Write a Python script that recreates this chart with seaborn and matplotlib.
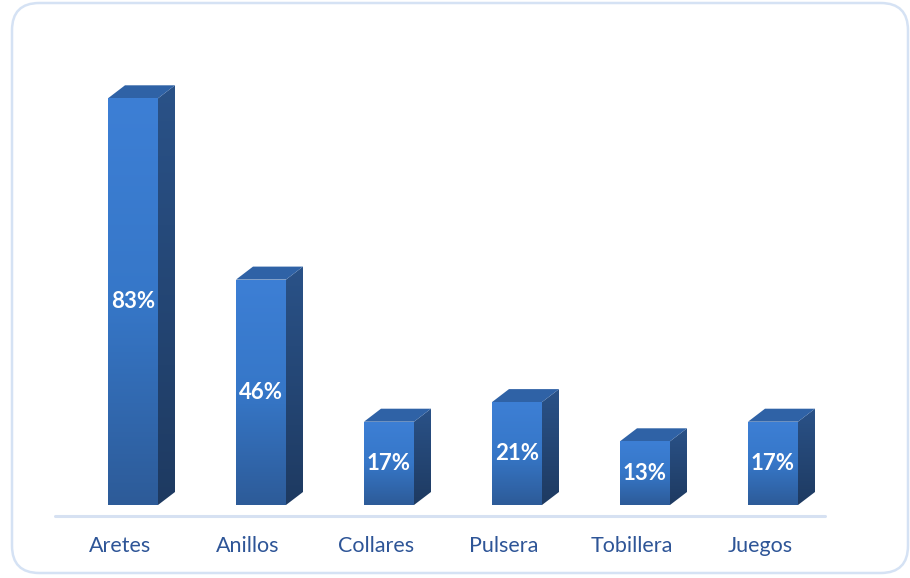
import numpy as np
import pandas as pd
import matplotlib
matplotlib.use("Agg")
import matplotlib.pyplot as plt
import seaborn as sns
from matplotlib.patches import Polygon, FancyBboxPatch
from matplotlib.colors import LinearSegmentedColormap
from matplotlib.transforms import ScaledTranslation, blended_transform_factory

# Chart data
categories = ["Aretes", "Anillos", "Collares", "Pulsera", "Tobillera", "Juegos"]
percentages = [83, 46, 17, 21, 13, 17]

sns.set_theme(style="white")
plt.rcParams["font.family"] = ["Lato", "DejaVu Sans"]

W, H, DPI = 910, 578, 100
fig = plt.figure(figsize=(W / DPI, H / DPI), dpi=DPI)
fig.patch.set_facecolor("white")

# axes placed in pixel terms: 128 px per category, 4.9 px per percent
left_px, base_px, cat_px, pct_px = 69, 73, 128, 4.9
ax = fig.add_axes([left_px / W, base_px / H, 6 * cat_px / W, 100 * pct_px / H])
ax.set_facecolor("none")

df = pd.DataFrame({"categoria": categories, "porcentaje": percentages})
bar_w = 50 / cat_px
sns.barplot(data=df, x="categoria", y="porcentaje", color="#3A78C9",
            width=bar_w, ax=ax, saturation=1, zorder=3)
ax.set_xlim(-0.5, 5.5)
ax.set_ylim(0, 100)

# depth of the 3D extrusion
dx = 17 / cat_px
dy = 13 / pct_px

front_cmap = LinearSegmentedColormap.from_list("front", ["#2D5B98", "#3677C8", "#3D7FD5"])
side_cmap = LinearSegmentedColormap.from_list("side", ["#1E3A61", "#2A5288"])
top_color = "#2F62A6"
grad = np.linspace(0, 1, 256).reshape(-1, 1)

for patch in list(ax.patches):
    x0 = patch.get_x()
    w = patch.get_width()
    h = patch.get_height()
    x1 = x0 + w
    patch.set_facecolor("none")
    patch.set_edgecolor("none")

    # side face (parallelogram to the right)
    side = Polygon([[x1, 0], [x1 + dx, dy], [x1 + dx, h + dy], [x1, h]],
                   closed=True, facecolor="none", edgecolor="none", zorder=2)
    ax.add_patch(side)
    im = ax.imshow(grad, extent=[x1, x1 + dx, 0, h + dy], origin="lower",
                   cmap=side_cmap, aspect="auto", zorder=2)
    im.set_clip_path(side)

    # top face
    top = Polygon([[x0, h], [x0 + dx, h + dy], [x1 + dx, h + dy], [x1, h]],
                  closed=True, facecolor=top_color, edgecolor="none", zorder=2)
    ax.add_patch(top)

    # front face with vertical gradient
    im = ax.imshow(grad, extent=[x0, x1, 0, h], origin="lower",
                   cmap=front_cmap, aspect="auto", zorder=3)
    im.set_clip_path(patch)

    ax.text(x0 + w / 2, h / 2, f"{int(round(h))}%", ha="center", va="center",
            color="white", fontsize=16, fontweight="bold", zorder=5)

ax.set_xlim(-0.5, 5.5)
ax.set_ylim(0, 100)
ax.set_xlabel("")
ax.set_ylabel("")
ax.set_xticks([])
ax.set_yticks([])
for s in ax.spines.values():
    s.set_visible(False)

# category axis line slightly below the bars
line_tr = blended_transform_factory(ax.transData, ax.transAxes) + \
    ScaledTranslation(0, -11 / DPI, fig.dpi_scale_trans)
x_start = -0.5 + (55 - left_px) / cat_px
x_end = -0.5 + (825 - left_px) / cat_px
ax.plot([x_start, x_end], [0, 0], color="#D6E1F2", lw=2.2,
        transform=line_tr, clip_on=False, zorder=1)

# category labels
lab_tr = ax.get_xaxis_transform() + \
    ScaledTranslation(-13 / DPI, -41 / DPI, fig.dpi_scale_trans)
for i, c in enumerate(categories):
    ax.text(i, 0, c, ha="center", va="center", color="#2E5597",
            fontsize=15.5, transform=lab_tr, clip_on=False)

# rounded outer frame
frame = FancyBboxPatch((12 / W, 5 / H), (896 / W), (570 / H),
                       boxstyle="round,pad=0,rounding_size=0.03",
                       transform=fig.transFigure, facecolor="none",
                       edgecolor="#D5E2F4", lw=1.8, mutation_aspect=W / H)
fig.patches.append(frame)

fig.savefig("out.png", dpi=DPI, facecolor="white")
